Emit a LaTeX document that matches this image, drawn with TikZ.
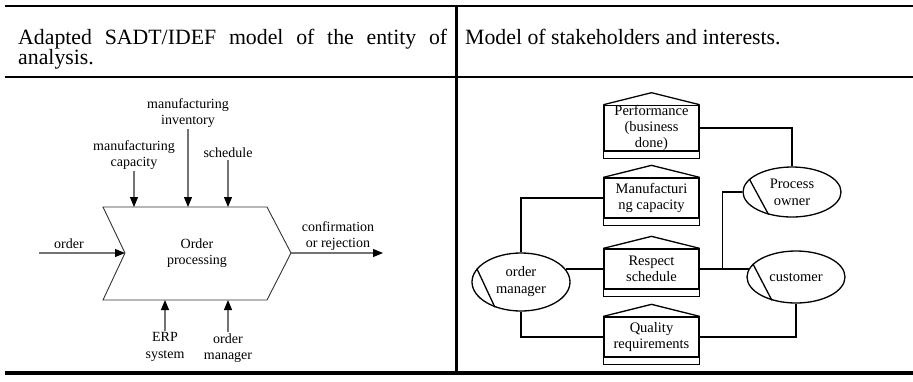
\documentclass[tikz,border=0pt]{standalone}
\usepackage{fontspec}
\setmainfont{Liberation Serif}
\usetikzlibrary{arrows.meta,shapes.geometric}
\hyphenpenalty=10000

\tikzset{
  head/.style={inner sep=0pt, font=\fontsize{21.8}{20}\selectfont},
  tag/.style={inner sep=1.5pt, align=center, font=\fontsize{14}{16.5}\selectfont},
  flow/.style={draw=black!55, line width=1.1pt, -{Triangle[length=10pt,width=8pt,color=black]}},
  interest/.style={draw, line width=1.3pt, minimum width=95pt, minimum height=40pt, inner sep=0pt, align=center, font=\fontsize{14.5}{16}\selectfont},
  role/.style={ellipse, draw, line width=1.3pt, inner sep=0pt, minimum width=98pt, minimum height=50pt, align=center, font=\fontsize{14.5}{17}\selectfont},
  link/.style={line width=1.3pt},
}

% house-shaped interest box: body, roof and bottom band
\newcommand{\interestbox}[3]{%
  \node[interest] (#1) at (#2) {#3};
  \draw[link] (#1.north west) -- ([yshift=12pt]#1.north) -- (#1.north east);
  \draw[link] (#1.south west) rectangle ([yshift=-7pt]#1.south east);
}

\begin{document}
\begin{tikzpicture}[x=1pt,y=-1pt]
  \useasboundingbox (0,0) rectangle (913,381);

  % table rules
  \draw[line width=2.5pt] (5,6) -- (913,6);
  \draw[line width=1.6pt] (5,77) -- (913,77);
  \draw[line width=4pt] (5,373) -- (913,373);
  \draw[line width=3pt] (456,6) -- (456,373);

  \node[head, text width=429pt, align=justify, anchor=base west] (lefthead) at (18,44)
    {Adapted SADT/IDEF model of the entity of analysis.};
  \node[head, anchor=base west] (righthead) at (465,44) {Model of stakeholders and interests.};

  % IDEF activity
  \draw[line width=0.9pt, black!80] (103,207) -- (267,207) -- (291,253) coordinate (tip)
    -- (267,300) -- (103,300) -- (125,253) coordinate (notch) -- cycle;
  \node[tag] (proc) at (197,253) {Order\\processing};

  \coordinate (capin) at (134,207);
  \coordinate (invin) at (188,207);
  \coordinate (schin) at (228,207);
  \coordinate (erpin) at (165,300);
  \coordinate (mgrin) at (228,300);
  \coordinate (orderin) at (39,253);
  \coordinate (outend) at (383,253);

  \node[tag] (cap) at (134,155) {manufacturing\\capacity};
  \node[tag] (inv) at (188,113) {manufacturing\\inventory};
  \node[tag] (sch) at (228,153) {schedule};
  \node[tag] (erp) at (165,347) {ERP\\system};
  \node[tag] (mgr) at (228,348) {order\\manager};
  \node[tag] (order) at (69,244) {order};
  \node[tag] (conf) at (338,236) {confirmation\\or rejection};

  \draw[flow] (orderin) -- (notch);
  \draw[flow] (tip) -- (outend);
  \draw[flow] (cap) -- (capin);
  \draw[flow] (inv) -- (invin);
  \draw[flow] (sch) -- (schin);
  \draw[flow] (erp) -- (erpin);
  \draw[flow] (mgr) -- (mgrin);

  % stakeholders and interests
  \interestbox{perf}{651.5,128}{Performance\\(business\\done)}
  \interestbox{manuf}{651.5,198}{Manufacturi\\ng capacity}
  \interestbox{resp}{651.5,269}{Respect\\schedule}
  \interestbox{qual}{651.5,337}{Quality\\requirements}

  \node[role, minimum height=58pt] (om) at (521,282) {order\\manager};
  \node[role] (po) at (792,192) {Process\\owner};
  \node[role, minimum height=52pt] (cust) at (796,277) {customer};
  \foreach \r in {om,po,cust}
    \draw[link] (\r.163) -- (\r.224);

  \draw[link] (perf.east) -| (po.north);
  \draw[link] (om.north) |- (manuf.west);
  \draw[link] (resp.west) -- (resp.west -| om.16);
  \draw[link] (om.south) |- (qual.west);
  \draw[link] (resp.east) -- (resp.east -| cust.170);
  \draw[link] ([xshift=23pt]resp.east) |- (po.west);
  \draw[link] (qual.east) -| (cust.south);
\end{tikzpicture}
\end{document}
